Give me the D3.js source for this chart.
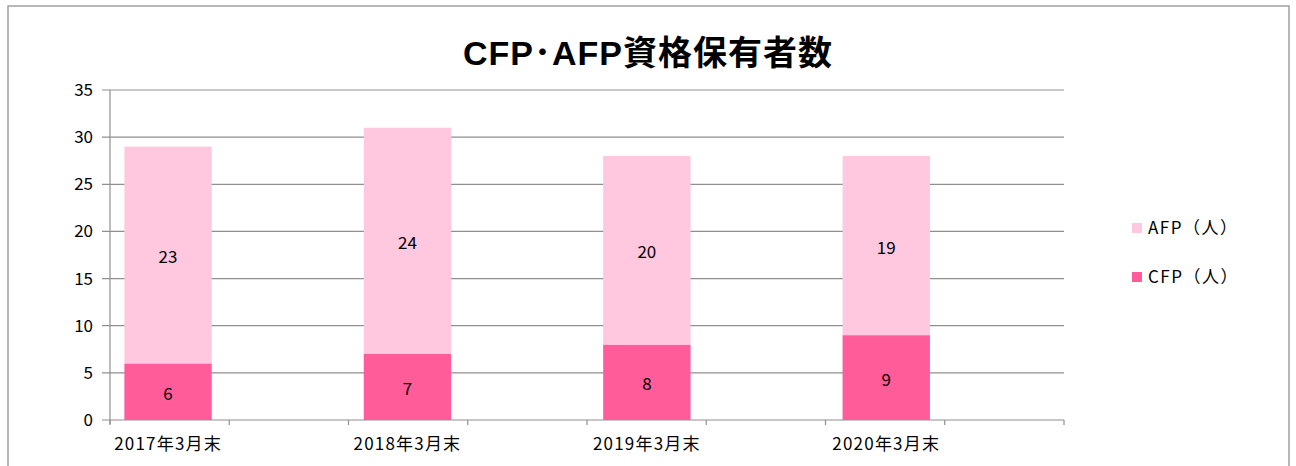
<!DOCTYPE html>
<html>
<head>
<meta charset="utf-8">
<script src="https://cdn.jsdelivr.net/npm/d3@7"></script>
<style>
  body { margin: 0; background: #fff; }
  text { font-family: "Noto Sans CJK JP", "Noto Sans", sans-serif; }
</style>
</head>
<body>
<div class="chart"></div>
<script>
// 年度ラベル
let categories = ["2017年3月末", "2018年3月末", "2019年3月末", "2020年3月末"]
let cfpValues = [6, 7, 8, 9]
let afpValues = [23, 24, 20, 19]
let yTicks = [0, 5, 10, 15, 20, 25, 30, 35]
let seriesNames = ["AFP（人）", "CFP（人）"]

let width = 1296, height = 466
let cfpColor = "#FF5C99", afpColor = "#FFC8DE", gridColor = "#8f8f8f"

let svg = d3.select(".chart")
    .append("svg")
    .attr("width", width)
    .attr("height", height)

// 外枠
svg.append("rect")
    .attr("x", 8).attr("y", 6)
    .attr("width", 1281).attr("height", 480)
    .attr("fill", "none")
    .attr("stroke", "#a0a0a0")
    .attr("stroke-width", 1.5)

svg.append("text")
    .attr("x", 648)
    .attr("y", 65)
    .attr("text-anchor", "middle")
    .attr("font-size", 34)
    .attr("font-weight", "bold")
    .attr("letter-spacing", 1)
    .style("font-family", "'Liberation Sans', 'Noto Sans CJK JP', sans-serif")
    .text("CFP･AFP資格保有者数")

// 空のカテゴリを間に挟む
let slots = []
categories.forEach((c, i) => { slots.push(c); slots.push("_blank" + i) })

let x = d3.scaleBand()
    .domain(slots)
    .range([110, 1064])
    .paddingInner(0.27)
    .paddingOuter(0.12)
let slotScale = d3.scaleBand().domain(slots).range([110, 1064])
let y = d3.scaleLinear().domain([0, 35]).range([420, 90])

// グリッド
svg.append("g")
    .selectAll("line")
    .data(yTicks)
    .enter()
    .append("line")
    .attr("x1", 102)
    .attr("x2", 1064)
    .attr("y1", d => y(d))
    .attr("y2", d => y(d))
    .attr("stroke", gridColor)
    .attr("stroke-width", 1.2)

svg.append("g")
    .selectAll("text")
    .data(yTicks)
    .enter()
    .append("text")
    .attr("x", 93)
    .attr("y", d => y(d) + 6)
    .attr("text-anchor", "end")
    .attr("font-size", 17)
    .text(d => d)

let rows = categories.map((c, i) => ({ cat: c, cfp: cfpValues[i], afp: afpValues[i] }))

let bars = svg.append("g")
bars.selectAll(".cfp")
    .data(rows)
    .enter()
    .append("rect")
    .attr("x", d => x(d.cat))
    .attr("width", x.bandwidth())
    .attr("y", d => y(d.cfp))
    .attr("height", d => y(0) - y(d.cfp))
    .attr("fill", cfpColor)
bars.selectAll(".afp")
    .data(rows)
    .enter()
    .append("rect")
    .attr("x", d => x(d.cat))
    .attr("width", x.bandwidth())
    .attr("y", d => y(d.cfp + d.afp))
    .attr("height", d => y(d.cfp) - y(d.cfp + d.afp))
    .attr("fill", afpColor)

// データラベル
let labels = svg.append("g")
rows.forEach(d => {
    let cx = x(d.cat) + x.bandwidth() / 2
    labels.append("text")
        .attr("x", cx)
        .attr("y", (y(0) + y(d.cfp)) / 2 + 8)
        .attr("text-anchor", "middle")
        .attr("font-size", 17)
        .text(d.cfp)
    labels.append("text")
        .attr("x", cx)
        .attr("y", (y(d.cfp) + y(d.cfp + d.afp)) / 2 + 8)
        .attr("text-anchor", "middle")
        .attr("font-size", 17)
        .text(d.afp)
})

// 軸
svg.append("line")
    .attr("x1", 110).attr("x2", 110)
    .attr("y1", 90).attr("y2", 424)
    .attr("stroke", gridColor).attr("stroke-width", 1.2)
let tickXs = slots.map(s => slotScale(s)).concat([1064])
svg.append("g")
    .selectAll("line")
    .data(tickXs)
    .enter()
    .append("line")
    .attr("x1", d => d).attr("x2", d => d)
    .attr("y1", 420).attr("y2", 425)
    .attr("stroke", gridColor).attr("stroke-width", 1.2)

svg.append("g")
    .selectAll("text")
    .data(categories)
    .enter()
    .append("text")
    .attr("x", d => x(d) + x.bandwidth() / 2)
    .attr("y", 450)
    .attr("text-anchor", "middle")
    .attr("font-size", 17)
    .attr("letter-spacing", 1.2)
    .text(d => d)

// 凡例
let legend = svg.append("g")
legend.selectAll("rect")
    .data(seriesNames)
    .enter()
    .append("rect")
    .attr("x", 1132)
    .attr("y", (d, i) => 223 + i * 49)
    .attr("width", 10)
    .attr("height", 10)
    .attr("fill", (d, i) => i == 0 ? afpColor : cfpColor)
legend.selectAll("text")
    .data(seriesNames)
    .enter()
    .append("text")
    .attr("x", 1148)
    .attr("y", (d, i) => 234 + i * 49)
    .attr("font-size", 17)
    .attr("letter-spacing", 1.5)
    .text(d => d)
</script>
</body>
</html>
